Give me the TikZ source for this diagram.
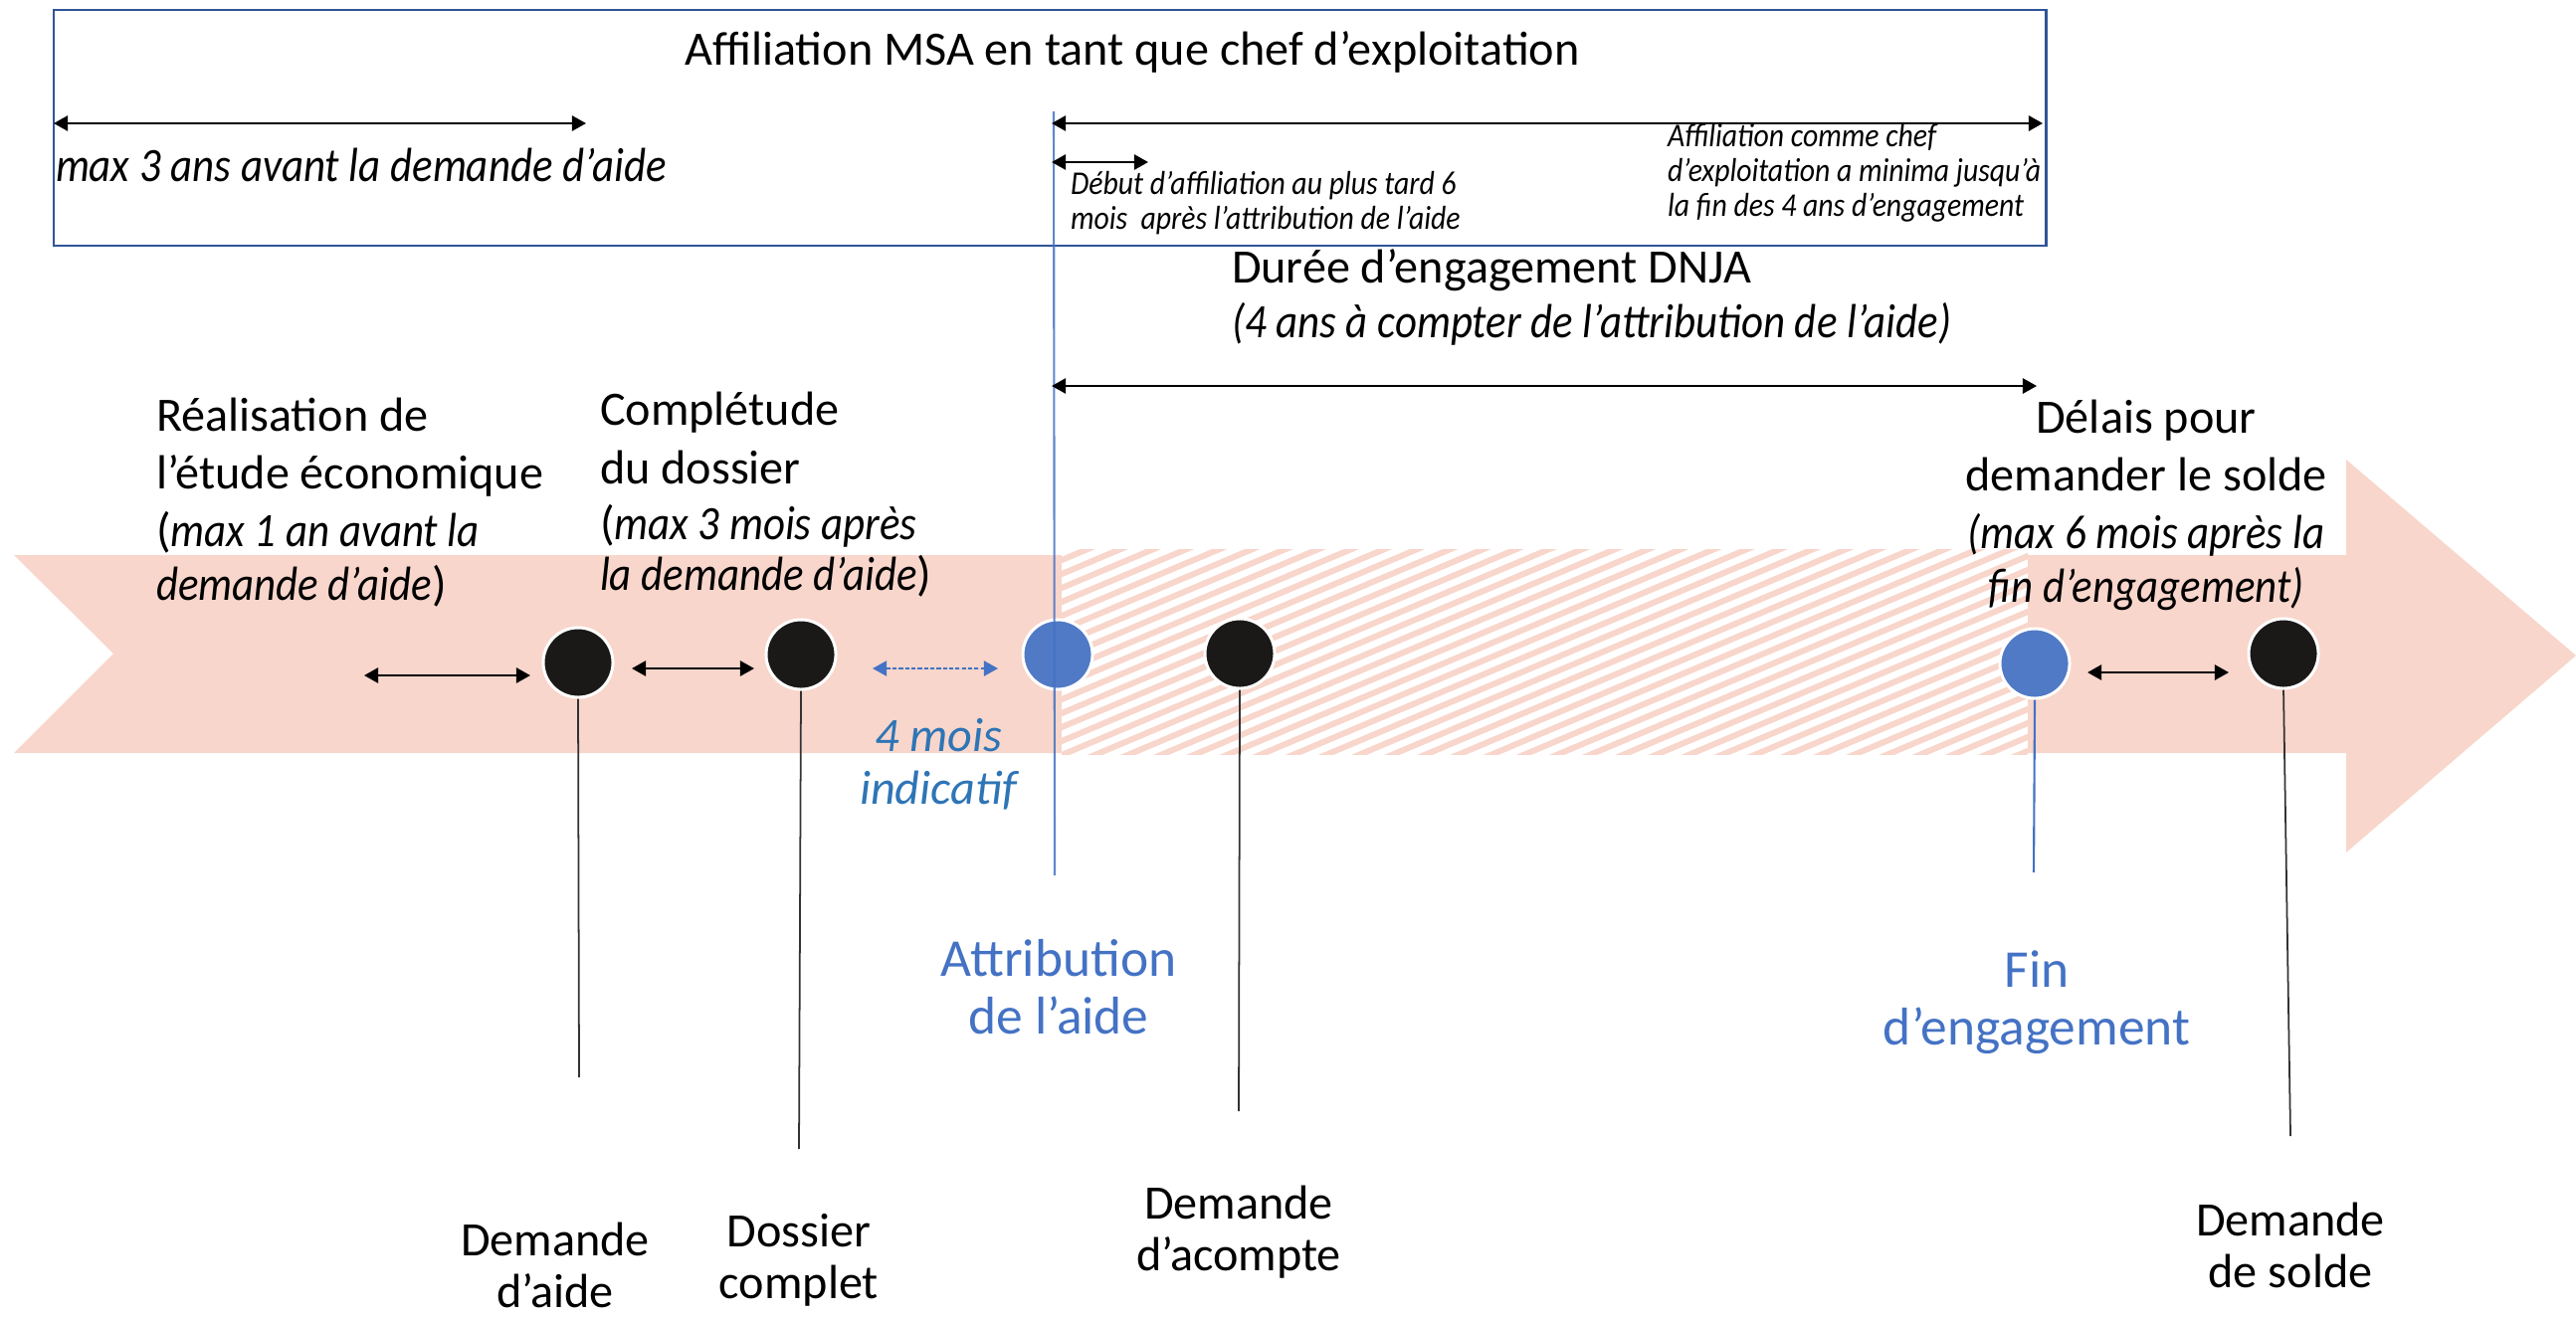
\documentclass[tikz,border=0pt]{standalone}
\usepackage{fontspec}
\setmainfont{Carlito}[ItalicFeatures={FakeStretch=0.89}]
\newfontfamily\plainfam{Carlito}
\usetikzlibrary{arrows.meta}
\definecolor{salmon}{HTML}{F8D6CB}
\definecolor{dotblue}{HTML}{5079C6}
\definecolor{dotblack}{HTML}{1B1818}
\definecolor{txtblue}{HTML}{4472C4}
\definecolor{txtblueb}{HTML}{2E75B6}
\definecolor{boxblue}{HTML}{2F5597}
\newcommand\myN{\fontsize{13.7}{16.6}\selectfont}
\newcommand\myB{\fontsize{15.2}{16.5}\selectfont}
\newcommand\myS{\fontsize{9.5}{9.9}\selectfont}
\newcommand\stN{\rule{0pt}{12pt}}
\newcommand\stB{\rule{0pt}{13pt}}
\newcommand\stS{\rule{0pt}{7.8pt}}
\begin{document}
\begin{tikzpicture}[x=0.01cm,y=-0.01cm,
  dotk/.style={circle,fill=dotblack,draw=white,line width=0.85pt,minimum size=0.7cm,inner sep=0pt},
  dotb/.style={circle,fill=dotblue,draw=white,line width=0.85pt,minimum size=0.7cm,inner sep=0pt},
  dbl/.style={{Triangle[length=4pt,width=4.3pt]}-{Triangle[length=4pt,width=4.3pt]},line width=0.7pt},
  dblblue/.style={{Triangle[length=4pt,width=4.3pt]}-{Triangle[length=4pt,width=4.3pt]},line width=0.5pt,draw=txtblue,fill=txtblue,dash pattern=on 1.2pt off 0.6pt},
  stem/.style={draw=black!80,line width=0.5pt},
  stemblue/.style={draw=txtblue,line width=0.6pt},
  txt/.style={inner sep=0pt,outer sep=0pt,font=\myN},
  btxt/.style={inner sep=0pt,outer sep=0pt,font=\myB,text=txtblue,align=center},
  stxt/.style={inner sep=0pt,outer sep=0pt,font=\myS\itshape,align=left}]
\useasboundingbox (0,0) rectangle (2589,1324);

% big arrow band
\fill[salmon] (14,558) -- (2358,558) -- (2358,462) -- (2589,659) -- (2358,857) -- (2358,757) -- (14,757) -- (114,657) -- cycle;

% hatched engagement zone
\fill[white] (1067,552) rectangle (2038,758);
\begin{scope}
  \clip (1067,552) rectangle (2038,758);
  \foreach \k in {0,...,46} {
    \draw[salmon,line width=1.7pt] (1060,{552+14*\k}) -- (2045,{552+14*\k-416});
  }
\end{scope}

% MSA box
\draw[boxblue,line width=0.85pt] (54,10) rectangle (2056,247);

% coordinates
\coordinate (a1l) at (54,124);   \coordinate (a1r) at (589,124);
\coordinate (a2l) at (1057,124); \coordinate (a2r) at (2053,124);
\coordinate (a3l) at (1057,163); \coordinate (a3r) at (1154,163);
\coordinate (a4l) at (1057,388); \coordinate (a4r) at (2047,388);
\coordinate (a5l) at (366,679);  \coordinate (a5r) at (533,679);
\coordinate (a6l) at (635,672);  \coordinate (a6r) at (758,672);
\coordinate (a7l) at (877,672);  \coordinate (a7r) at (1003,672);
\coordinate (a8l) at (2098,676); \coordinate (a8r) at (2240,676);
\coordinate (atttop) at (1059,112); \coordinate (attbot) at (1060,880);
\coordinate (s1) at (582,1083);
\coordinate (s2) at (803,1155);
\coordinate (s3) at (1245,1117);
\coordinate (s4) at (2044,877);
\coordinate (s5) at (2302,1142);

% dots
\node[dotk] (d1) at (581,666) {};
\node[dotk] (d2) at (805,658) {};
\node[dotb] (att) at (1063,658) {};
\node[dotk] (d3) at (1246,657) {};
\node[dotb] (fin) at (2045,667) {};
\node[dotk] (d4) at (2295,657) {};

% stems
\draw[stem] (d1.south) -- (s1);
\draw[stem] (d2.south) -- (s2);
\draw[stem] (d3.south) -- (s3);
\draw[stem] (d4.south) -- (s5);
\draw[stemblue] (fin.south) -- (s4);
\draw[stemblue,opacity=0.85] (atttop) -- (attbot);

% arrows
\draw[dbl] (a1l) -- (a1r);
\draw[dbl] (a2l) -- (a2r);
\draw[dbl] (a3l) -- (a3r);
\draw[dbl] (a4l) -- (a4r);
\draw[dbl] (a5l) -- (a5r);
\draw[dbl] (a6l) -- (a6r);
\draw[dblblue] (a7l) -- (a7r);
\draw[dbl] (a8l) -- (a8r);

% texts
\node[txt,anchor=base] (title) at (1138,65) {Affiliation MSA en tant que chef d’exploitation};
\node[txt,anchor=base west,font=\myN\itshape] (maxtrois) at (56,182) {max 3 ans avant la demande d’aide};
\node[stxt,anchor=north west] (debut) at (1076,168) {\stS Début d’affiliation au plus tard 6\\mois\ \ après l’attribution de l’aide};
\node[stxt,anchor=north west] (affcomme) at (1676,120) {\stS Affiliation comme chef\\d’exploitation a minima jusqu’à\\la fin des 4 ans d’engagement};
\node[txt,anchor=north west,align=left] (duree) at (1238,242) {\stN Durée d’engagement DNJA\\[-1pt]\textit{(4 ans à compter de l’attribution de l’aide)}};
\node[txt,anchor=north west,align=left] (real) at (157,391) {\stN Réalisation de\\l’étude économique\\(\textit{max 1 an avant la}\\[-1.5pt]\textit{demande d’aide})};
\node[txt,anchor=north west,align=left] (compl) at (603,385) {\stN Complétude\\[0.3pt]du dossier\\[-0.8pt](\textit{max 3 mois après}\\[-1.9pt]\textit{la demande d’aide})};
\node[txt,anchor=north,align=center] (delais) at (2157,393) {\stN Délais pour\\demander le solde\\\textit{(max 6 mois après la}\\[-1.3pt]\textit{fin d’engagement)}};
\node[txt,anchor=north,align=center,text=txtblueb,font=\myN\plainfam\itshape] (quatre) at (943,713) {\stN 4 mois\\[-1.5pt]indicatif};
\node[btxt,anchor=north] (attrib) at (1064,936) {\stB Attribution\\de l’aide};
\node[btxt,anchor=north] (fintxt) at (2047,947) {\stB Fin\\d’engagement};
\node[txt,anchor=north,align=center] (demaide) at (558,1220) {\stN Demande\\[-1.8pt]d’aide};
\node[txt,anchor=north,align=center] (dossier) at (803,1211) {\stN Dossier\\[-1.8pt]complet};
\node[txt,anchor=north,align=center] (acompte) at (1245,1183) {\stN Demande\\[-1.8pt]d’acompte};
\node[txt,anchor=north,align=center] (solde) at (2302,1200) {\stN Demande\\[-1.8pt]de solde};
\end{tikzpicture}
\end{document}
